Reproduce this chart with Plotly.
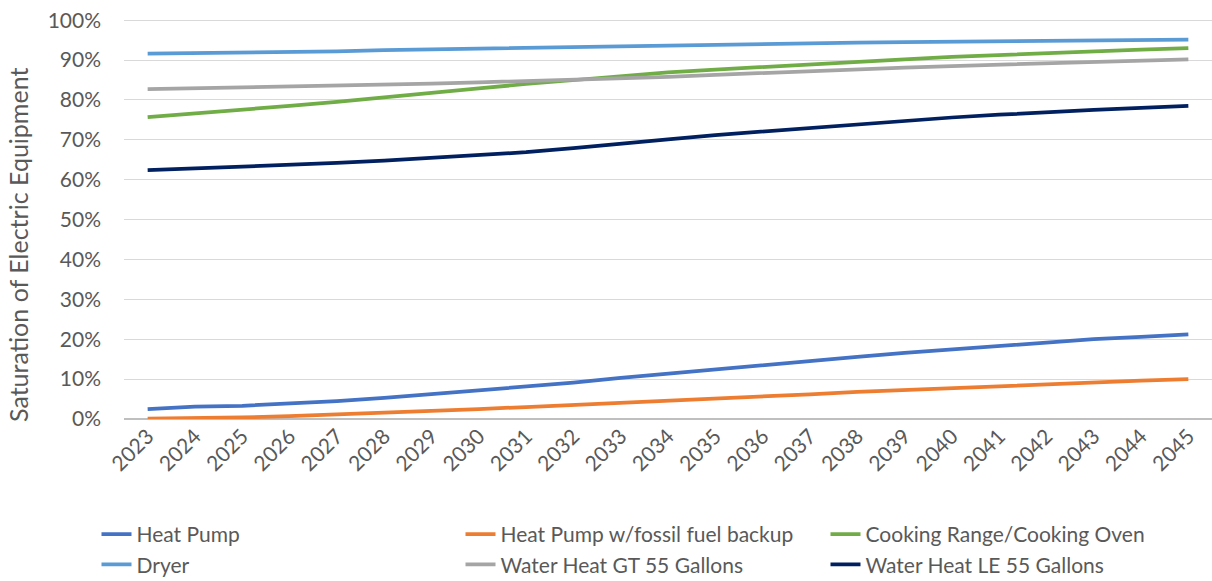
import plotly.graph_objects as go

years = [str(y) for y in range(2023, 2046)]
y_ticks = [0, 0.1, 0.2, 0.3, 0.4, 0.5, 0.6, 0.7, 0.8, 0.9, 1.0]
y_tick_labels = ["0%", "10%", "20%", "30%", "40%", "50%", "60%", "70%", "80%", "90%", "100%"]

heat_pump = [2.5, 3.1, 3.3, 3.8, 4.5, 5.3, 6.2, 7.1, 8.0, 9.1, 10.3, 11.4, 12.5,
             13.5, 14.6, 15.6, 16.6, 17.5, 18.4, 19.2, 20.0, 20.6, 21.2]
heat_pump_fossil = [0.1, 0.2, 0.4, 0.7, 1.1, 1.5, 2.0, 2.5, 3.0, 3.5, 4.0, 4.6, 5.1,
                    5.7, 6.2, 6.8, 7.3, 7.8, 8.3, 8.8, 9.3, 9.6, 10.0]
cooking = [75.7, 76.6, 77.4, 78.5, 79.5, 80.7, 81.8, 82.9, 84.0, 85.0, 86.0, 86.9, 87.6,
           88.3, 89.0, 89.6, 90.2, 90.8, 91.3, 91.8, 92.2, 92.6, 93.0]
dryer = [91.6, 91.7, 91.8, 92.0, 92.2, 92.5, 92.7, 92.9, 93.1, 93.4, 93.6, 93.8, 94.0,
         94.2, 94.3, 94.4, 94.5, 94.6, 94.7, 94.8, 94.9, 95.0, 95.1]
water_gt55 = [82.7, 82.9, 83.1, 83.4, 83.6, 83.8, 84.1, 84.4, 84.7, 85.0, 85.4, 85.8, 86.3,
              86.8, 87.3, 87.7, 88.1, 88.5, 88.8, 89.2, 89.5, 89.8, 90.2]
water_le55 = [62.4, 62.8, 63.3, 63.7, 64.2, 64.8, 65.5, 66.2, 66.9, 67.9, 68.9, 70.1, 71.2,
              72.1, 73.0, 73.9, 74.8, 75.6, 76.3, 77.0, 77.5, 78.0, 78.5]

# (name, values, colour, legend column)
series = [
    ("Heat Pump", heat_pump, "#4472C4", "legend"),
    ("Heat Pump w/fossil fuel backup", heat_pump_fossil, "#ED7D31", "legend2"),
    ("Cooking Range/Cooking Oven", cooking, "#70AD47", "legend3"),
    ("Dryer", dryer, "#5B9BD5", "legend"),
    ("Water Heat GT 55 Gallons", water_gt55, "#A5A5A5", "legend2"),
    ("Water Heat LE 55 Gallons", water_le55, "#002060", "legend3"),
]

font_family = "Lato"
grey_text = "#595959"

fig = go.Figure()
for name, vals, color, leg in series:
    fig.add_trace(go.Scatter(
        x=years, y=[v / 100 for v in vals], name=name, mode="lines",
        line=dict(color=color, width=3.75), legend=leg,
    ))

W, H = 1212, 581
leg_y = 1 - 514 / H

def legend_col(x_px):
    return dict(
        orientation="v", xref="container", yref="container",
        x=x_px / W, y=leg_y, xanchor="left", yanchor="top",
        font=dict(size=21, color=grey_text), traceorder="normal",
        itemwidth=30, bgcolor="rgba(0,0,0,0)",
    )

fig.update_layout(
    width=W, height=H,
    paper_bgcolor="white", plot_bgcolor="white",
    margin=dict(t=19, b=162, l=124, r=0, autoexpand=False),
    font=dict(family=font_family, color=grey_text),
    showlegend=True,
    legend=legend_col(96.5),
    legend2=legend_col(460.5),
    legend3=legend_col(825.5),
)
fig.update_xaxes(
    type="category", range=[-0.5, 22.5],
    tickangle=-45, tickfont=dict(size=21, color=grey_text),
    showgrid=False, showline=False, ticks="",
)
# a hair above 100% so the top gridline is not clipped at the plot edge
fig.update_yaxes(
    range=[0, 1.003], tickvals=y_ticks, ticktext=y_tick_labels,
    tickfont=dict(size=21, color=grey_text), ticklabelstandoff=22,
    ticklabeloverflow="allow",
    gridcolor="#d9d9d9", gridwidth=1.3,
    zeroline=True, zerolinecolor="#bfbfbf", zerolinewidth=1.5,
)

fig.add_annotation(
    text="Saturation of Electric Equipment", textangle=-90,
    xref="paper", yref="paper", x=(18 - 124) / 1088, y=(419 - 245) / 400,
    xanchor="center", yanchor="middle", showarrow=False,
    font=dict(size=25, color=grey_text, family=font_family),
)

# drop the browser's default 8px body margin so the figure fills the window
fig.write_html("out.html", config={"displayModeBar": False},
               post_script="document.body.style.margin = '0';")
